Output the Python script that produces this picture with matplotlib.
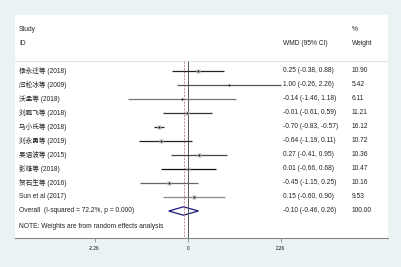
import numpy as np
import matplotlib.pyplot as plt
import matplotlib.transforms as mtransforms
from matplotlib.patches import Polygon

plt.rcParams['font.family'] = ['Liberation Sans', 'Noto Sans CJK SC', 'DejaVu Sans']

studies = ["杨永迁等 (2018)", "闫松冰等 (2009)", "沃孟等 (2018)", "刘鹏飞等 (2018)",
           "马小氏等 (2018)", "刘永勇等 (2019)", "吴语波等 (2015)", "彭雄等 (2018)",
           "贺石生等 (2016)", "Sun et al (2017)"]
wmd = [0.25, 1.00, -0.14, -0.01, -0.70, -0.64, 0.27, 0.01, -0.45, 0.15]
lo = [-0.38, -0.26, -1.46, -0.61, -0.83, -1.19, -0.41, -0.66, -1.15, -0.60]
hi = [0.88, 2.26, 1.18, 0.59, -0.57, 0.11, 0.95, 0.68, 0.25, 0.90]
weights = [10.90, 5.42, 6.11, 11.21, 16.12, 10.72, 10.36, 10.47, 10.16, 9.53]
overall = (-0.10, -0.46, 0.26)
overall_label = "Overall  (I-squared = 72.2%, p = 0.000)"
xticks = [-2.26, 0, 2.26]
xtick_labels = ["-2.26", "0", "2.26"]

line_colors = ["#222222", "#555555", "#777777", "#333333", "#222222",
               "#222222", "#444444", "#111111", "#666666", "#888888"]

W, H = 402, 267
fig = plt.figure(figsize=(W / 100, H / 100), dpi=100, facecolor="#eaf2f3")
ax = fig.add_axes([15 / W, (H - 238) / H, 373 / W, 223 / H])
ax.set_facecolor("white")

px_per_unit = 41.2
ax.set_xlim((15 - 187.7) / px_per_unit, (388 - 187.7) / px_per_unit)
ax.set_ylim((238 - 71) / 14, (15 - 71) / 14)

fs = 4.8
tc = "#222222"
txt = mtransforms.blended_transform_factory(ax.transAxes, ax.transData)
col_name, col_wmd, col_w = 0.011, 0.718, 0.903

def put(x, y, s):
    ax.text(x, y, s, transform=txt, fontsize=fs, va="center", color=tc)

# header
put(col_name, -2.93, "Study")
put(col_name, -1.93, "ID")
put(col_wmd, -1.93, "WMD (95% CI)")
put(col_w, -2.93, "%")
put(col_w, -1.93, "Weight")
ax.axhline(-0.71, color="#e2e2e2", lw=0.8)

bottom = (238 - 71) / 14
ax.vlines(0, -0.71, bottom, color="#555555", lw=0.7)
ax.vlines(overall[0], -0.71, bottom, color="#c08080", lw=0.6, linestyles=(0, (2.5, 1.5)))

for i, (name, m, l, h, w, c) in enumerate(zip(studies, wmd, lo, hi, weights, line_colors)):
    ax.plot([l, h], [i, i], color=c, lw=0.9, solid_capstyle="butt")
    ax.plot(m, i, marker="s", ms=0.85 * np.sqrt(w), color="#c0c0c0", mec="none")
    ax.plot(m, i, marker="s", ms=1.2, color="black", mec="none")
    put(col_name, i, name)
    put(col_wmd, i, f"{m:.2f} ({l:.2f}, {h:.2f})")
    put(col_w, i, f"{w:.2f}")

k = len(studies)
m, l, h = overall
ax.add_patch(Polygon([[l, k], [m, k - 0.3], [h, k], [m, k + 0.3]], closed=True,
                     fill=False, edgecolor="#1a1a7a", lw=0.9))
put(col_name, k, overall_label)
put(col_wmd, k, f"{m:.2f} ({l:.2f}, {h:.2f})")
put(col_w, k, "100.00")

put(col_name, (227 - 71) / 14, "NOTE: Weights are from random effects analysis")

for s in ["top", "left", "right"]:
    ax.spines[s].set_visible(False)
ax.spines["bottom"].set_color("#888888")
ax.spines["bottom"].set_linewidth(0.8)
ax.set_yticks([])
ax.set_xticks(xticks)
ax.set_xticklabels(xtick_labels)
ax.tick_params(axis="x", length=3, width=0.6, color="#888888", labelsize=3.3, pad=3)

fig.savefig("out.png", dpi=100, facecolor=fig.get_facecolor())
